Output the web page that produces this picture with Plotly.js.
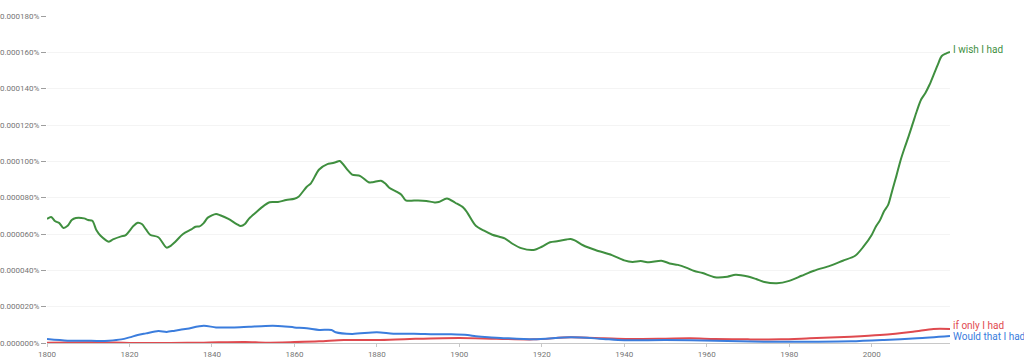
<!DOCTYPE html>
<html>
<head>
<meta charset="utf-8">
<script src="https://cdn.plot.ly/plotly-3.0.1.min.js"></script>
<style>html,body{margin:0;padding:0;background:#fff;}#chart{width:1024px;height:360px;}</style>
</head>
<body>
<div id="chart"></div>
<script>
// values in units of 0.000001 %
const wishYears = [1800,1801,1802,1803,1804,1805,1806,1807,1809,1810,1811,1812,1813,1815,1816,1818,1819,1821,1822,1823,1824,1825,1827,1829,1830,1831,1833,1835,1836,1837,1838,1839,1841,1842,1844,1846,1847,1848,1849,1851,1852,1854,1856,1858,1860,1861,1863,1864,1866,1868,1869,1870,1871,1873,1874,1876,1878,1879,1881,1882,1883,1885,1886,1887,1890,1892,1894,1895,1897,1899,1901,1902,1904,1906,1908,1911,1913,1915,1918,1920,1922,1924,1926,1927,1928,1930,1933,1937,1940,1942,1944,1946,1949,1951,1953,1955,1957,1959,1962,1965,1967,1970,1972,1974,1977,1980,1983,1986,1990,1993,1996,1998,2000,2001,2002,2003,2004,2005,2006,2007,2008,2009,2010,2011,2012,2013,2014,2015,2016,2017,2018,2019];
const wishVals = [68.3,69.4,67,66,63.3,64.5,67.7,68.8,68.6,67.7,67.3,62,59,55.8,57,58.7,59.2,64.5,66.2,65.5,62.5,59.6,58.2,52.5,53.5,55.5,60,62.5,64,64.2,66,69,71,70.3,68.3,65.5,64.4,65.5,68.5,72.5,74.5,77.5,77.6,78.7,79.4,80.5,86,87.9,95.5,98.5,98.9,99.5,100.2,95,92.7,91.9,88.5,88.5,89.3,87.9,85.5,83,81.5,78.5,78.5,78.2,77.4,77.6,79.6,77.2,74.5,71.5,64.5,61.8,59.6,57.6,54.5,52.2,51.2,53,55.5,56.1,57,57.2,56.5,53.8,51.2,48.4,45.5,44.6,45.1,44.4,45.3,43.8,43,41.5,39.6,38.5,36.2,36.5,37.6,36.6,35.2,33.6,32.9,34.2,37,39.8,42.6,45.3,48,53,59.5,64,67.5,72.5,76,84,92,100.5,107.5,114,121,128,134,137.5,142,147.5,153,158,159.3,160.2];

const ifOnlyYears = [1800,1812,1820,1830,1838,1848,1853,1860,1866,1872,1880,1888,1900,1909,1918,1927,1935,1941,1950,1956,1962,1970,1978,1985,1995,2002,2010,2015,2019];
const ifOnlyVals = [0.2,0.4,0.05,0.05,0.2,0.55,0.2,0.5,0.9,1.65,1.65,2.2,2.75,2.3,2.0,3.1,2.6,2.2,2.4,2.6,2.2,2.0,2.0,2.6,3.5,4.4,6.2,7.7,7.7];

const wouldYears = [1800,1805,1809,1813,1815,1818,1820,1822,1824,1827,1829,1831,1834,1838,1841,1845,1849,1853,1856,1860,1863,1866,1869,1870,1874,1880,1884,1889,1894,1898,1902,1904,1907,1910,1918,1927,1934,1940,1950,1962,1974,1987,1995,2003,2011,2019];
const wouldVals = [2.2,1.3,1.3,1.1,1.3,2.0,3.1,4.4,5.3,6.6,6.1,6.8,7.9,9.5,8.6,8.6,9.0,9.4,9.4,8.6,8.1,7.2,7.2,5.9,5.0,5.9,5.1,5.1,4.8,4.8,4.4,3.7,3.1,2.8,2.0,3.1,2.4,1.5,1.65,1.3,0.7,0.7,0.9,1.65,2.6,3.85];

const seriesNames = ["I wish I had", "if only I had", "Would that I had"];
const seriesColors = ["#3f8f3f", "#df4a4f", "#3b7ddd"];
const labelShift = [2, 4, 0];

const yTicks = [0,20,40,60,80,100,120,140,160,180];
const yTickLabels = ["0.000000%","0.000020%","0.000040%","0.000060%","0.000080%","0.000100%","0.000120%","0.000140%","0.000160%","0.000180%"];
const xTicks = [1800,1820,1840,1860,1880,1900,1920,1940,1960,1980,2000];

const scale = 1e-6;
const sets = [[wishYears, wishVals], [ifOnlyYears, ifOnlyVals], [wouldYears, wouldVals]];

const traces = sets.map((s, i) => ({
  x: s[0], y: s[1].map(v => v * scale), type: 'scatter', mode: 'lines',
  name: seriesNames[i], line: {color: seriesColors[i], width: 2, shape: 'spline', smoothing: 0.8},
  hoverinfo: 'skip'
}));

const annotations = sets.map((s, i) => ({
  x: s[0][s[0].length - 1], y: s[1][s[1].length - 1] * scale, xref: 'x', yref: 'y',
  text: seriesNames[i], showarrow: false, xanchor: 'left', yanchor: 'middle',
  xshift: 1, yshift: labelShift[i],
  font: {family: 'Roboto, sans-serif', size: 10, color: seriesColors[i]}
}));

const layout = {
  width: 1024, height: 360,
  margin: {l: 47, r: 74, t: 16, b: 17},
  paper_bgcolor: '#fff', plot_bgcolor: '#fff',
  showlegend: false,
  font: {family: 'Roboto, sans-serif', size: 8, color: '#757575'},
  xaxis: {
    range: [1800, 2019], tickvals: xTicks, ticktext: xTicks.map(String),
    showgrid: false, zeroline: false, showline: true, linecolor: '#c8c8c8', linewidth: 1,
    ticks: 'outside', ticklen: 3, tickcolor: '#c8c8c8',
    tickfont: {family: 'Roboto, sans-serif', size: 8, color: '#757575'}
  },
  yaxis: {
    range: [0, 180 * scale], tickvals: yTicks.map(v => v * scale), ticktext: yTickLabels,
    showgrid: true, gridcolor: '#f4f4f4', zeroline: false, showline: false,
    ticks: 'outside', ticklen: 5, tickcolor: '#9e9e9e',
    tickfont: {family: 'Roboto, sans-serif', size: 8, color: '#757575'}
  },
  annotations: annotations
};

Plotly.newPlot('chart', traces, layout, {staticPlot: true, displayModeBar: false});
</script>
</body>
</html>
